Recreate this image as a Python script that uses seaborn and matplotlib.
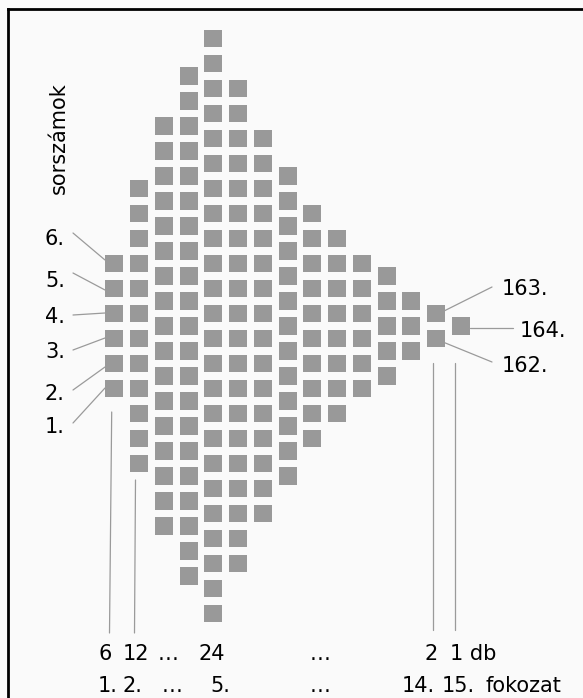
import numpy as np
import pandas as pd
import matplotlib
matplotlib.use("Agg")
import matplotlib.pyplot as plt
import seaborn as sns

# darabszám fokozatonként (15 fokozat, összesen 164)
fokozatok = list(range(1, 16))
darab = [6, 12, 17, 21, 24, 20, 16, 13, 10, 8, 6, 5, 3, 2, 1]

bal_cimkek = ["1.", "2.", "3.", "4.", "5.", "6."]
jobb_cimkek = ["162.", "163.", "164."]
also_sor1 = ["6", "12", "…", "24", "…", "2", "1 db"]
also_sor2 = ["1.", "2.", "…", "5.", "…", "14.", "15.", "fokozat"]
tengely_cim = "sorszámok"

# táblázat: minden négyzet egy sor, oszloponként középre igazítva
sorok = []
for f, n in zip(fokozatok, darab):
    for k in range(n):
        sorok.append({"fokozat": f, "hely": k - (n - 1) / 2})
df = pd.DataFrame(sorok)

# képpont -> adat átváltás (felső-bal origó)
W, H = 583, 698
X0, DX = 114.3, 24.76
Y0, DY = 326.0, 25.0


def px(x, y):
    return 1 + (x - X0) / DX, (Y0 - y) / DY


sns.set_style("white")
plt.rcParams["font.family"] = ["DejaVu Sans"]
plt.rcParams["text.color"] = "black"

fig = plt.figure(figsize=(W / 100, H / 100), dpi=100, facecolor="#fafafa")
ax = fig.add_axes([8 / W, 0, 1 - 8 / W, 1 - 9 / H])
ax.set_facecolor("#fafafa")

sns.scatterplot(data=df, x="fokozat", y="hely", marker="s", s=165,
                color="#999999", edgecolor="none", linewidth=0,
                legend=False, ax=ax, zorder=3)

x_lo, y_top = px(8, 9)
x_hi, y_bot = px(W, H)
ax.set_xlim(x_lo, x_hi)
ax.set_ylim(y_bot, y_top)
ax.set_xticks([])
ax.set_yticks([])
ax.set_xlabel("")
ax.set_ylabel("")
for s in ["right", "bottom"]:
    ax.spines[s].set_visible(False)
for s in ["left", "top"]:
    ax.spines[s].set_color("black")
    ax.spines[s].set_linewidth(2.0)

vonal = dict(color="#9a9a9a", lw=0.9)
fs = 15
szoveg = dict(fontsize=fs, ha="left", va="baseline", color="black")

# bal oldali sorszámok az 1. fokozat négyzeteihez
bal_alap = [433, 400, 358, 323, 287, 245]
bal_vonal = [(423, 388), (390, 367), (350, 338), (315, 313), (273, 290), (233, 260)]
for lab, yb, (y1, y2) in zip(bal_cimkek, bal_alap, bal_vonal):
    ax.text(*px(45, yb), lab, **szoveg)
    xa, ya = px(73, y1)
    xb, yb2 = px(105, y2)
    ax.plot([xa, xb], [ya, yb2], **vonal)

ax.text(*px(65, 138), tengely_cim, fontsize=fs, rotation=90, color="black",
        rotation_mode="anchor", ha="center", va="baseline")

# jobb oldali sorszámok
jobb_alap = [(502, 372), (502, 295), (520, 337)]
jobb_vonal = [((492, 362), (438, 340)), ((492, 287), (442, 312)),
              ((513, 328), (470, 328))]
for lab, (xt, yt), (p1, p2) in zip(jobb_cimkek, jobb_alap, jobb_vonal):
    ax.text(*px(xt, yt), lab, **szoveg)
    xa, ya = px(*p1)
    xb, yb2 = px(*p2)
    ax.plot([xa, xb], [ya, yb2], **vonal)

# függőleges vezetővonalak az alsó feliratokhoz
for (xa, ya), (xb, yb2) in [((111.7, 412), (109.5, 633)),
                            ((135.5, 480), (134.5, 633)),
                            ((433, 363), (433, 630)),
                            ((455, 363), (455, 630))]:
    p, q = px(xa, ya), px(xb, yb2)
    ax.plot([p[0], q[0]], [p[1], q[1]], **vonal)

# alsó két sor
sor1_x = [98, 123, 158, 198, 310, 425, 450]
sor2_x = [98, 123, 162, 210, 310, 402, 442, 485]
for lab, xt in zip(also_sor1, sor1_x):
    ax.text(*px(xt, 660), lab, **szoveg)
for lab, xt in zip(also_sor2, sor2_x):
    ax.text(*px(xt, 692), lab, **szoveg)

fig.savefig("out.png", dpi=100, facecolor="#fafafa")
